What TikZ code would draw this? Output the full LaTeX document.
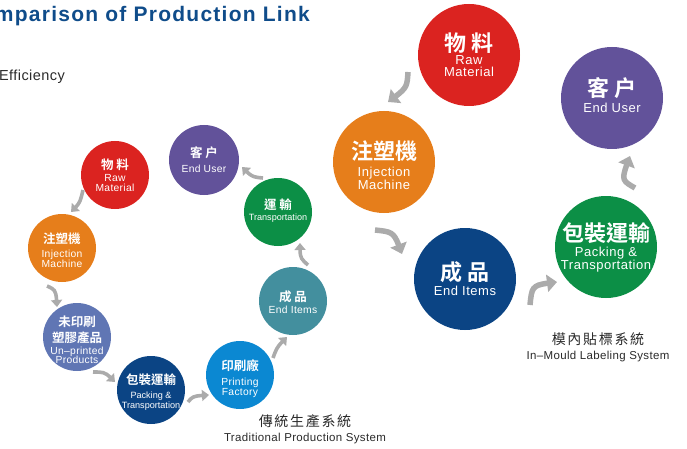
\documentclass[tikz,border=0pt]{standalone}
\usepackage{fontspec}
\usetikzlibrary{arrows.meta,bending,calc}
\setmainfont{Liberation Sans}
\newfontfamily\cjk{Noto Sans CJK TC}[BoldFont={* Bold}]
\newfontfamily\cjkcap{Noto Sans CJK TC}[LetterSpace=12]
\newfontfamily\latsmall{Liberation Sans}[LetterSpace=3]
\newfontfamily\latbig{Liberation Sans}[LetterSpace=4]
\newfontfamily\latcap{Liberation Sans}[LetterSpace=3]
\definecolor{cred}{HTML}{DB2320}
\definecolor{corange}{HTML}{E67E1B}
\definecolor{cnavy}{HTML}{0B4484}
\definecolor{cgreen}{HTML}{0C8F46}
\definecolor{cpurple}{HTML}{62529A}
\definecolor{cteal}{HTML}{438F9E}
\definecolor{cblue}{HTML}{0B88D2}
\definecolor{cslate}{HTML}{6076B4}
\definecolor{cgarrow}{HTML}{ABABAB}
\definecolor{ctitle}{HTML}{0F4C8A}
\definecolor{cink}{HTML}{2A2A2A}
\tikzset{
  x=1pt,y=-1pt,
  small/.style={circle,minimum size=68pt,inner sep=0pt},
  big/.style={circle,minimum size=102pt,inner sep=0pt},
  smalltext/.style={inner sep=0pt,align=center,text=white,font=\latsmall\fontsize{10.3}{10}\selectfont},
  bigtext/.style={inner sep=0pt,align=center,text=white,font=\latbig\fontsize{13}{12}\selectfont},
  sarrow/.style={draw=cgarrow,line width=3.6pt,-{Triangle[length=7pt,width=11pt]}},
  barrow/.style={draw=cgarrow,line width=5.5pt,-{Triangle[length=10pt,width=17pt]}},
  caption/.style={text=cink,anchor=center,inner sep=0pt},
}
\newcommand{\zhs}[1]{{\cjk\bfseries\fontsize{12.5}{15}\selectfont #1}}
\newcommand{\zhb}[1]{{\cjk\bfseries\fontsize{22}{25}\selectfont #1}}
\newcommand{\tight}[1]{{\fontspec{Liberation Sans}\fontsize{9.1}{9}\selectfont #1}}
\begin{document}
\begin{tikzpicture}
\useasboundingbox (0,0) rectangle (687,449);
\clip (0,0) rectangle (687,449);
\node[anchor=east,inner sep=0pt,text=ctitle,font=\bfseries\fontsize{21}{24}\selectfont] (title) at (310,16) {\addfontfeatures{LetterSpace=6}Comparison of Production Link};
\node[anchor=east,inner sep=0pt,text=cink,font=\fontsize{14.5}{16}\selectfont] (eff) at (65,77) {\addfontfeatures{LetterSpace=3}Efficiency};
% left cycle
\node[small,fill=cred] (a1) at (115,175) {};
\node[small,fill=corange] (a2) at (62,248) {};
\node[small,fill=cslate] (a3) at (77,337) {};
\node[small,fill=cnavy] (a4) at (151,390) {};
\node[small,fill=cblue] (a5) at (240,375) {};
\node[small,fill=cteal] (a6) at (293,301) {};
\node[small,fill=cgreen] (a7) at (278,212) {};
\node[small,minimum size=70pt,fill=cpurple] (a8) at (204,160) {};
\node[smalltext] (ta1) at ($(a1)+(0,0)$) {\zhs{物 料}\\[2pt]Raw\\Material};
\node[smalltext] (ta2) at ($(a2)+(0,2)$) {\zhs{注塑機}\\[4pt]Injection\\Machine};
\node[smalltext] (ta3) at ($(a3)+(0,3)$) {\zhs{未印刷}\\[3pt]\zhs{塑膠產品}\\[2pt]Un–printed\\[-1pt]Products};
\node[smalltext] (ta4) at ($(a4)+(0,2)$) {\zhs{包裝運輸}\\[4pt]\tight{Packing \&}\\\tight{Transportation}};
\node[smalltext] (ta5) at ($(a5)+(0,4)$) {\zhs{印刷廠}\\[5pt]Printing\\Factory};
\node[smalltext] (ta6) at ($(a6)+(0,1)$) {\zhs{成 品}\\[2pt]End Items};
\node[smalltext] (ta7) at ($(a7)+(0,-1)$) {\zhs{運 輸}\\[1pt]\tight{Transportation}};
\node[smalltext] (ta8) at ($(a8)+(0,0)$) {\zhs{客 户}\\[5pt]End User};
\draw[sarrow] ($(a1)+(-32,15)$) .. controls (80,203) .. ($(a2)+(9,-36)$);
\draw[sarrow] ($(a2)+(-15,38)$) .. controls (56,290) .. ($(a3)+(-20,-30)$);
\draw[sarrow] ($(a3)+(16,35)$) .. controls (105,372) .. ($(a4)+(-36,-8)$);
\draw[sarrow] ($(a4)+(37,12)$) .. controls (193,396) .. ($(a5)+(-31,20)$);
\draw[sarrow] ($(a5)+(33,-17)$) .. controls (277,347) .. ($(a6)+(-6,36)$);
\draw[sarrow] ($(a6)+(15,-36)$) .. controls (300,258) .. ($(a7)+(22,31)$);
\draw[sarrow] ($(a7)+(-15,-34)$) .. controls (252,177) .. ($(a8)+(38,7)$);
% right cycle
\node[big,fill=cred] (b1) at (469,55) {};
\node[big,fill=corange] (b2) at (384,162) {};
\node[big,fill=cnavy] (b3) at (465,279) {};
\node[big,fill=cgreen] (b4) at (606,247) {};
\node[big,fill=cpurple] (b5) at (612,98) {};
\node[bigtext] (tb1) at ($(b1)+(0,0)$) {\zhb{物 料}\\[1pt]Raw\\Material};
\node[bigtext] (tb2) at ($(b2)+(0,3)$) {\zhb{注塑機}\\[5pt]Injection\\Machine};
\node[bigtext] (tb3) at ($(b3)+(0,0)$) {\zhb{成 品}\\[3pt]End Items};
\node[bigtext] (tb4) at ($(b4)+(0,0)$) {\zhb{包裝運輸}\\[3pt]Packing \&\\Transportation};
\node[bigtext] (tb5) at ($(b5)+(0,-3)$) {\zhb{客 户}\\[4pt]End User};
\draw[barrow] ($(b1)+(-61,17)$) .. controls (407,88) .. ($(b2)+(4,-60)$);
\draw[barrow] ($(b2)+(-9,68)$) .. controls (394,232) .. ($(b3)+(-63,-25)$);
\draw[barrow] ($(b3)+(65,26)$) .. controls (532,285) .. ($(b4)+(-49,35)$);
\draw[barrow] ($(b4)+(29,-59)$) .. controls (621,180) .. ($(b5)+(18,58)$);
% captions
\node[caption,font=\cjkcap\fontsize{14}{16}\selectfont] (c1) at (305,421) {傳統生產系統};
\node[caption,font=\latcap\fontsize{11.5}{12}\selectfont] (c2) at (305,439) {Traditional Production System};
\node[caption,font=\cjkcap\fontsize{14}{16}\selectfont] (c3) at (598,339) {模內貼標系統};
\node[caption,font=\latcap\fontsize{11.5}{12}\selectfont] (c4) at (598,357) {In–Mould Labeling System};
\end{tikzpicture}
\end{document}
